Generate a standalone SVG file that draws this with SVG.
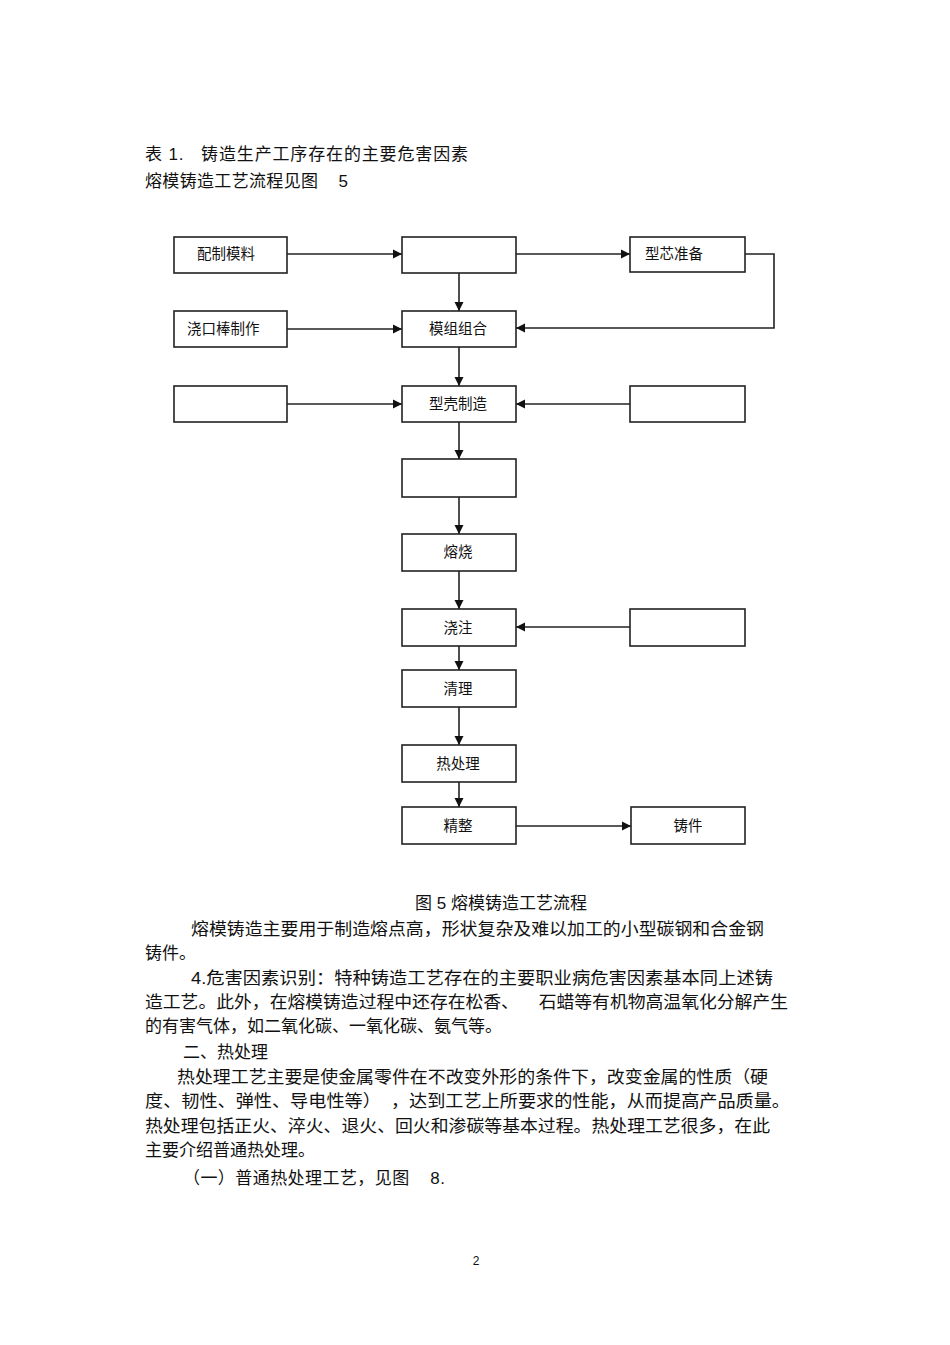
<svg xmlns="http://www.w3.org/2000/svg" width="950" height="1345" viewBox="0 0 950 1345">
<style>
.bx{fill:#fff;stroke:#222;stroke-width:1.6}
.lb{font-family:"Liberation Sans","Noto Sans CJK SC",sans-serif;font-size:14.5px;fill:#111}
.c{text-anchor:middle}
.tx{font-family:"Liberation Sans","Noto Sans CJK SC",sans-serif;font-size:17px;fill:#111;white-space:pre}
.cn{fill:none;stroke:#222;stroke-width:1.6}
</style>
<defs>
<marker id="ah" markerWidth="10" markerHeight="10" refX="9" refY="5" orient="auto" markerUnits="userSpaceOnUse">
<path d="M0,0.5 L9,5 L0,9.5 Z" fill="#111"/>
</marker>
</defs>
<rect width="950" height="1345" fill="#fff"/>

<text class="tx" x="145" y="159.5" xml:space="preserve" textLength="323" lengthAdjust="spacing">表 1.   铸造生产工序存在的主要危害因素</text>
<text class="tx" x="145" y="186.5" xml:space="preserve" textLength="203" lengthAdjust="spacing">熔模铸造工艺流程见图    5</text>

<g id="connectors">
<path class="cn" d="M287,254 H402" marker-end="url(#ah)"/>
<path class="cn" d="M516,254 H630" marker-end="url(#ah)"/>
<path class="cn" d="M745,254 H774 V328 H516" marker-end="url(#ah)"/>
<path class="cn" d="M459,273 V311" marker-end="url(#ah)"/>
<path class="cn" d="M287,329 H402" marker-end="url(#ah)"/>
<path class="cn" d="M459,347 V386" marker-end="url(#ah)"/>
<path class="cn" d="M287,404 H402" marker-end="url(#ah)"/>
<path class="cn" d="M630,404 H516" marker-end="url(#ah)"/>
<path class="cn" d="M459,422 V459" marker-end="url(#ah)"/>
<path class="cn" d="M459,497 V534" marker-end="url(#ah)"/>
<path class="cn" d="M459,571 V609" marker-end="url(#ah)"/>
<path class="cn" d="M630,627 H516" marker-end="url(#ah)"/>
<path class="cn" d="M459,646 V670" marker-end="url(#ah)"/>
<path class="cn" d="M459,707 V745" marker-end="url(#ah)"/>
<path class="cn" d="M459,782 V807" marker-end="url(#ah)"/>
<path class="cn" d="M516,826 H631" marker-end="url(#ah)"/>
</g>

<g id="n_pzml"><rect class="bx" x="174" y="237" width="113" height="36"/><text class="lb" x="197" y="259">配制模料</text></g>
<g id="n_top"><rect class="bx" x="402" y="237" width="114" height="36"/></g>
<g id="n_xxzb"><rect class="bx" x="630" y="237" width="115" height="35"/><text class="lb" x="645" y="259">型芯准备</text></g>
<g id="n_jkbzz"><rect class="bx" x="174" y="311" width="113" height="36"/><text class="lb" x="187" y="334">浇口棒制作</text></g>
<g id="n_mzzh"><rect class="bx" x="402" y="311" width="114" height="36"/><text class="lb c" x="458" y="334">模组组合</text></g>
<g id="n_left3"><rect class="bx" x="174" y="386" width="113" height="36"/></g>
<g id="n_xkzz"><rect class="bx" x="402" y="386" width="114" height="36"/><text class="lb c" x="458" y="409">型壳制造</text></g>
<g id="n_right3"><rect class="bx" x="630" y="386" width="115" height="36"/></g>
<g id="n_mid4"><rect class="bx" x="402" y="459" width="114" height="38"/></g>
<g id="n_rs"><rect class="bx" x="402" y="534" width="114" height="37"/><text class="lb c" x="458" y="557">熔烧</text></g>
<g id="n_jz"><rect class="bx" x="402" y="609" width="114" height="37"/><text class="lb c" x="458" y="633">浇注</text></g>
<g id="n_right6"><rect class="bx" x="630" y="609" width="115" height="37"/></g>
<g id="n_ql"><rect class="bx" x="402" y="670" width="114" height="37"/><text class="lb c" x="458" y="694">清理</text></g>
<g id="n_rcl"><rect class="bx" x="402" y="745" width="114" height="37"/><text class="lb c" x="458" y="769">热处理</text></g>
<g id="n_jzh"><rect class="bx" x="402" y="807" width="114" height="37"/><text class="lb c" x="458" y="831">精整</text></g>
<g id="n_zj"><rect class="bx" x="631" y="807" width="114" height="37"/><text class="lb c" x="688" y="831">铸件</text></g>

<text class="tx" x="415" y="908.5">图 5 熔模铸造工艺流程</text>
<text class="tx" x="191" y="934.5" textLength="573" lengthAdjust="spacingAndGlyphs">熔模铸造主要用于制造熔点高，形状复杂及难以加工的小型碳钢和合金钢</text>
<text class="tx" x="145" y="958.5">铸件。</text>
<text class="tx" x="191" y="983.5" textLength="582" lengthAdjust="spacingAndGlyphs">4.危害因素识别：特种铸造工艺存在的主要职业病危害因素基本同上述铸</text>
<text class="tx" x="145" y="1007.5" textLength="643" lengthAdjust="spacingAndGlyphs" xml:space="preserve">造工艺。此外，在熔模铸造过程中还存在松香、    石蜡等有机物高温氧化分解产生</text>
<text class="tx" x="145" y="1031.5">的有害气体，如二氧化碳、一氧化碳、氨气等。</text>
<text class="tx" x="183" y="1058">二、热处理</text>
<text class="tx" x="177" y="1082.5" textLength="591" lengthAdjust="spacingAndGlyphs">热处理工艺主要是使金属零件在不改变外形的条件下，改变金属的性质（硬</text>
<text class="tx" x="145" y="1106.5" textLength="645" lengthAdjust="spacingAndGlyphs" xml:space="preserve">度、韧性、弹性、导电性等）  ，达到工艺上所要求的性能，从而提高产品质量。</text>
<text class="tx" x="145" y="1131.5" textLength="625" lengthAdjust="spacingAndGlyphs">热处理包括正火、淬火、退火、回火和渗碳等基本过程。热处理工艺很多，在此</text>
<text class="tx" x="145" y="1155.5">主要介绍普通热处理。</text>
<text class="tx" x="183" y="1183.5" xml:space="preserve" textLength="262" lengthAdjust="spacing">（一）普通热处理工艺，见图    8.</text>
<text class="tx" x="476" y="1265" style="font-size:12px" text-anchor="middle">2</text>
</svg>
